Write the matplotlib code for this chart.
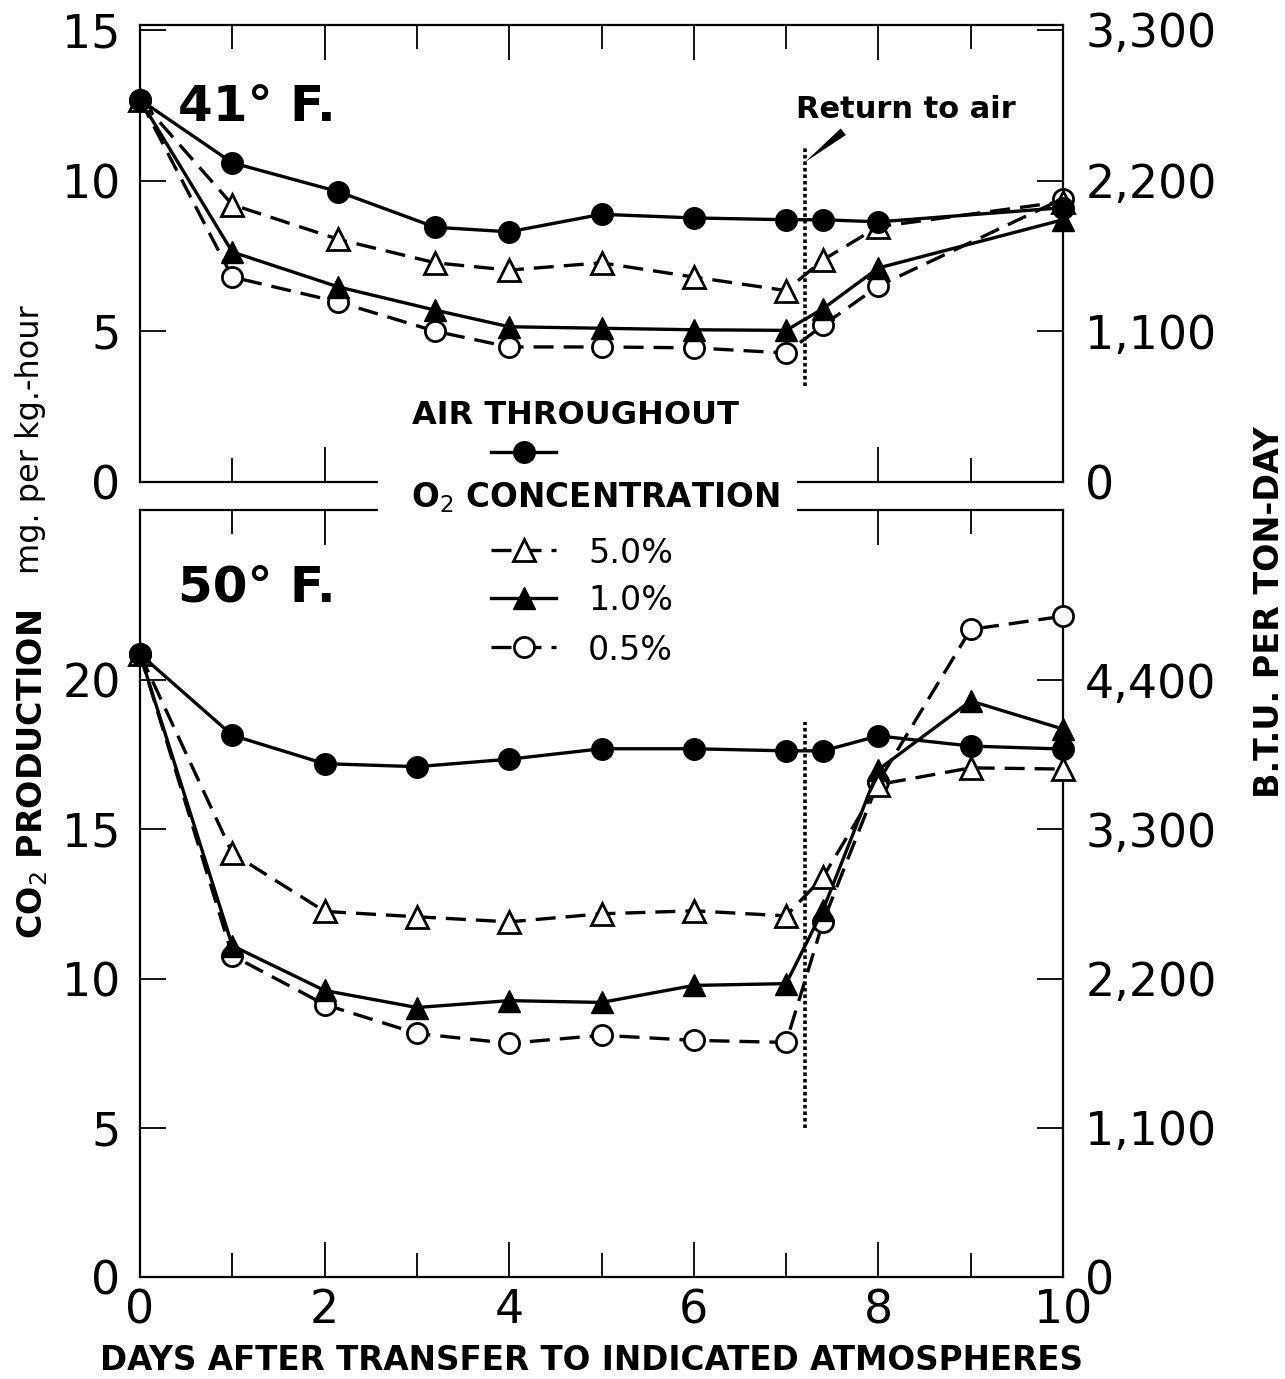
import matplotlib
matplotlib.use('Agg')
import matplotlib.pyplot as plt
from matplotlib.lines import Line2D
from matplotlib.patches import Rectangle

# ---------------- data ----------------
days_41 = [0, 1, 2.15, 3.2, 4, 5, 6, 7, 7.4, 8, 10]
air_41 = [12.68, 10.59, 9.63, 8.45, 8.3, 8.88, 8.76, 8.7, 8.7, 8.63, 9.1]
o2_5_0_41 = [12.68, 9.2, 8.05, 7.27, 7.03, 7.27, 6.8, 6.35, 7.37, 8.47, 9.3]
o2_1_0_41 = [12.68, 7.63, 6.47, 5.7, 5.15, 5.1, 5.05, 5.03, 5.75, 7.1, 8.7]
o2_0_5_41 = [12.68, 6.8, 5.97, 5.0, 4.48, 4.48, 4.45, 4.28, 5.2, 6.5, 9.4]

days_50 = [0, 1, 2, 3, 4, 5, 6, 7, 7.4, 8, 9, 10]
air_50 = [20.87, 18.15, 17.2, 17.1, 17.35, 17.7, 17.7, 17.63, 17.63, 18.13, 17.79, 17.69]
o2_5_0_50 = [20.87, 14.2, 12.25, 12.07, 11.9, 12.17, 12.27, 12.1, 13.4, 16.5, 17.06, 17.02]
o2_1_0_50 = [20.87, 11.1, 9.6, 9.03, 9.26, 9.2, 9.77, 9.83, 12.3, 17.0, 19.3, 18.36]
o2_0_5_50 = [20.87, 10.77, 9.13, 8.16, 7.83, 8.1, 7.93, 7.86, 11.9, 16.6, 21.7, 22.14]

return_day = 7.2
return_line_41 = (3.2, 11.1)
return_line_50 = (5.0, 18.6)
return_arrow_tip = (7.2, 10.6)
return_arrow_tail = (7.62, 11.62)

day_ticks = [0, 2, 4, 6, 8, 10]
day_minor = [1, 3, 5, 7, 9]
co2_ticks_41 = [0, 5, 10, 15]
co2_ticks_50 = [0, 5, 10, 15, 20]
btu_labels_41 = ['0', '1,100', '2,200', '3,300']
btu_labels_50 = ['0', '1,100', '2,200', '3,300', '4,400']
series_labels = ['5.0%', '1.0%', '0.5%']

# ---------------- figure ----------------
plt.rcParams['font.family'] = ['DejaVu Sans']
W, H = 1285, 1379
fig = plt.figure(figsize=(W / 100, H / 100), dpi=100)


def fx(p):
    return p / W


def fy(p):
    return 1 - p / H


ax1 = fig.add_axes([fx(140), fy(482), 923 / W, 457 / H])
ax2 = fig.add_axes([fx(140), fy(1277), 923 / W, 767 / H])

dash = (0, (6, 3))
st_air = dict(color='black', lw=2.4, ls='-', marker='o', ms=15.5, mfc='black', mec='black')
st_5 = dict(color='black', lw=2.4, ls=dash, marker='^', ms=16, mfc='white', mec='black', mew=2)
st_1 = dict(color='black', lw=2.4, ls='-', marker='^', ms=16, mfc='black', mec='black')
st_05 = dict(color='black', lw=2.4, ls=dash, marker='o', ms=14.5, mfc='white', mec='black', mew=2)

for ax, d, a, s5, s1, s05 in [(ax1, days_41, air_41, o2_5_0_41, o2_1_0_41, o2_0_5_41),
                              (ax2, days_50, air_50, o2_5_0_50, o2_1_0_50, o2_0_5_50)]:
    ax.plot(d, s05, clip_on=False, zorder=3, **st_05)
    ax.plot(d, s1, clip_on=False, zorder=4, **st_1)
    ax.plot(d, s5, clip_on=False, zorder=5, **st_5)
    ax.plot(d, a, clip_on=False, zorder=6, **st_air)

ax1.vlines(return_day, *return_line_41, colors='black', linestyles=(0, (1, 0.8)), lw=2.6, zorder=7)
ax2.vlines(return_day, *return_line_50, colors='black', linestyles=(0, (1, 0.8)), lw=2.6, zorder=7)
ax1.annotate('', xy=return_arrow_tip, xytext=return_arrow_tail,
             arrowprops=dict(arrowstyle='wedge,tail_width=0.3', mutation_scale=20,
                             fc='black', ec='black', lw=0, shrinkA=0, shrinkB=0))


def style_axes(ax, top, yticks, btu, show_x):
    ax.set_xlim(0, 10)
    ax.set_ylim(0, top)
    ax.set_xticks(day_ticks)
    ax.set_xticks(day_minor, minor=True)
    ax.set_yticks(yticks)
    ax.set_yticklabels([str(t) for t in yticks])
    ax.tick_params(axis='x', which='major', direction='in', length=25, width=1.3,
                   top=True, bottom=True, labelbottom=show_x, labelsize=33, pad=8)
    ax.tick_params(axis='x', which='minor', direction='in', length=17, width=1.3,
                   top=True, bottom=True)
    ax.tick_params(axis='y', direction='in', length=19, width=1.3, left=True, right=True,
                   labelsize=33, pad=14)
    for s in ax.spines.values():
        s.set_linewidth(1.6)
    sec = ax.secondary_yaxis('right')
    sec.set_yticks(yticks, labels=btu)
    sec.tick_params(length=0, labelsize=33, pad=16)
    sec.spines['right'].set_visible(False)


style_axes(ax1, 15.16, co2_ticks_41, btu_labels_41, False)
style_axes(ax2, 25.7, co2_ticks_50, btu_labels_50, True)

# panel titles
fig.text(fx(178), fy(121), '41° F.', fontsize=36, fontweight='bold', va='baseline', ha='left')
fig.text(fx(178), fy(602), '50° F.', fontsize=36, fontweight='bold', va='baseline', ha='left')
fig.text(fx(796), fy(118), 'Return to air', fontsize=22, fontweight='bold', va='baseline', ha='left')

# legend block
fig.add_artist(Rectangle((fx(378), fy(548)), (797 - 378) / W, (548 - 393) / H,
                         transform=fig.transFigure, facecolor='white', edgecolor='none', zorder=8))
fig.text(fx(575), fy(424), 'AIR THROUGHOUT', fontsize=23, fontweight='bold',
         ha='center', va='baseline', zorder=9)
fig.text(fx(595), fy(507), 'O$_2$ CONCENTRATION', fontsize=23.5, fontweight='bold',
         ha='center', va='baseline', zorder=9)


def handle(yp, st):
    ln = Line2D([fx(491), fx(523.5), fx(556)], [fy(yp)] * 3, transform=fig.transFigure,
                markevery=[1], zorder=9, **st)
    fig.add_artist(ln)


handle(452, st_air)
for yp, yb, st, lab in zip([550, 598, 647], [563, 610, 660], [st_5, st_1, st_05], series_labels):
    handle(yp, st)
    fig.text(fx(588), fy(yb), lab, fontsize=24, ha='left', va='baseline', zorder=9)

# axis labels
fig.text(fx(42), fy(774), 'CO$_2$ PRODUCTION', fontsize=24, fontweight='bold', rotation=90,
         rotation_mode='anchor', ha='center', va='baseline')
fig.text(fx(39), fy(440), 'mg. per kg.-hour', fontsize=23, rotation=90,
         rotation_mode='anchor', ha='center', va='baseline')
fig.text(fx(1279), fy(612), 'B.T.U. PER TON-DAY', fontsize=24, fontweight='bold', rotation=90,
         rotation_mode='anchor', ha='center', va='baseline')
fig.text(fx(592), fy(1370), 'DAYS AFTER TRANSFER TO INDICATED ATMOSPHERES', fontsize=23.5,
         fontweight='bold', ha='center', va='baseline')

fig.savefig('out.png', dpi=100)
